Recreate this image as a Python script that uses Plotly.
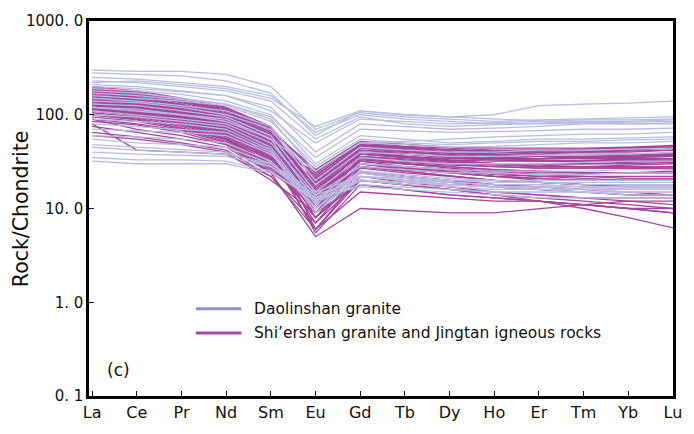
import plotly.graph_objects as go

# Chondrite-normalised REE patterns
elements = ["La", "Ce", "Pr", "Nd", "Sm", "Eu", "Gd", "Tb", "Dy", "Ho", "Er", "Tm", "Yb", "Lu"]

daolinshan = [
    [300, 290, 290, 270, 200, 70, 105, 95, 90, 85, 88, 90, 92, 95],
    [280, 270, 260, 230, 170, 60, 110, 100, 95, 100, 125, 130, 133, 140],
    [250, 240, 220, 200, 160, 65, 100, 90, 85, 80, 80, 82, 83, 85],
    [230, 220, 200, 180, 140, 55, 95, 80, 75, 78, 82, 85, 85, 88],
    [220, 230, 210, 190, 150, 75, 110, 100, 95, 90, 85, 82, 80, 80],
    [210, 200, 180, 160, 110, 50, 90, 85, 80, 82, 85, 88, 88, 90],
    [200, 190, 175, 160, 120, 40, 80, 75, 70, 72, 75, 80, 80, 82],
    [190, 180, 165, 140, 100, 30, 60, 55, 50, 52, 55, 55, 56, 58],
    [180, 170, 150, 130, 90, 25, 50, 48, 45, 46, 48, 50, 50, 52],
    [170, 160, 145, 130, 95, 35, 70, 68, 65, 66, 68, 70, 70, 72],
    [160, 150, 140, 125, 85, 28, 55, 50, 48, 50, 52, 52, 54, 55],
    [150, 140, 125, 110, 75, 20, 45, 42, 40, 40, 42, 42, 43, 44],
    [140, 135, 120, 100, 70, 18, 40, 38, 36, 36, 37, 38, 38, 40],
    [130, 125, 110, 95, 60, 15, 35, 32, 30, 30, 30, 31, 32, 32],
    [120, 110, 100, 85, 55, 25, 50, 52, 55, 58, 60, 62, 62, 65],
    [120, 115, 100, 90, 55, 12, 30, 28, 26, 25, 25, 25, 26, 26],
    [110, 100, 90, 80, 50, 14, 28, 26, 24, 24, 23, 23, 24, 24],
    [100, 95, 85, 75, 45, 11, 25, 23, 21, 20, 20, 20, 20, 20],
    [90, 85, 80, 70, 42, 10, 24, 21, 19, 18, 18, 17, 17, 17],
    [80, 75, 70, 65, 40, 9, 22, 20, 18, 17, 16, 16, 15, 15],
    [70, 68, 65, 60, 38, 12, 25, 22, 20, 19, 19, 18, 18, 18],
    [60, 58, 55, 50, 32, 10, 20, 19, 18, 17, 17, 16, 16, 16],
    [55, 50, 48, 45, 30, 13, 22, 21, 20, 20, 19, 19, 19, 19],
    [48, 45, 42, 40, 28, 12, 20, 18, 17, 16, 16, 15, 15, 15],
    [45, 42, 40, 38, 30, 15, 22, 20, 19, 18, 18, 17, 17, 17],
    [40, 38, 37, 36, 28, 14, 20, 19, 18, 17, 17, 17, 16, 16],
    [35, 33, 33, 32, 25, 12, 18, 17, 16, 15, 15, 15, 14, 14],
    [32, 30, 30, 30, 24, 13, 17, 16, 15, 14, 13, 13, 13, 13],
]

shiershan = [
    [200, 180, 150, 120, 75, 20, 45, 42, 40, 38, 38, 40, 42, 45],
    [195, 170, 145, 118, 72, 24, 50, 46, 44, 42, 42, 42, 43, 45],
    [190, 175, 140, 115, 70, 15, 40, 38, 35, 34, 34, 35, 36, 38],
    [188, 168, 142, 112, 68, 26, 52, 48, 45, 44, 44, 44, 45, 47],
    [185, 165, 140, 110, 65, 12, 38, 35, 33, 32, 32, 32, 33, 34],
    [182, 162, 138, 108, 64, 21, 46, 44, 42, 41, 42, 43, 44, 46],
    [180, 160, 135, 105, 62, 18, 45, 42, 40, 40, 40, 40, 42, 44],
    [175, 155, 130, 100, 60, 10, 35, 32, 30, 30, 30, 30, 31, 32],
    [172, 152, 128, 102, 61, 17, 44, 40, 37, 35, 34, 34, 35, 36],
    [170, 150, 125, 98, 58, 14, 40, 36, 32, 30, 28, 28, 28, 28],
    [170, 150, 128, 100, 60, 11, 35, 30, 27, 25, 23, 22, 22, 22],
    [165, 145, 120, 95, 55, 22, 50, 45, 42, 40, 40, 40, 40, 42],
    [162, 144, 122, 96, 56, 19, 46, 42, 39, 37, 36, 36, 37, 38],
    [160, 140, 118, 92, 52, 16, 42, 38, 35, 33, 32, 32, 33, 34],
    [160, 142, 120, 94, 55, 6, 20, 18, 16, 14, 13, 12, 11, 10],
    [155, 138, 115, 90, 50, 9, 30, 28, 26, 25, 24, 24, 24, 25],
    [155, 136, 114, 89, 51, 23, 47, 44, 42, 41, 40, 40, 41, 42],
    [150, 135, 112, 88, 48, 13, 36, 34, 32, 30, 30, 30, 30, 31],
    [150, 130, 110, 85, 46, 8, 28, 25, 22, 20, 19, 18, 18, 18],
    [148, 132, 110, 86, 47, 15, 38, 36, 34, 33, 32, 32, 32, 33],
    [145, 128, 108, 82, 45, 20, 45, 42, 40, 38, 36, 35, 35, 36],
    [145, 128, 105, 80, 44, 21, 48, 44, 40, 38, 36, 34, 33, 32],
    [140, 125, 105, 80, 44, 12, 34, 30, 28, 26, 25, 24, 24, 24],
    [140, 122, 102, 78, 42, 25, 48, 45, 42, 40, 38, 38, 38, 38],
    [138, 120, 100, 77, 41, 14, 36, 33, 31, 29, 28, 28, 29, 30],
    [135, 120, 100, 76, 40, 11, 30, 27, 24, 22, 20, 20, 20, 20],
    [130, 118, 98, 74, 40, 17, 40, 36, 33, 30, 28, 28, 27, 27],
    [130, 115, 95, 72, 38, 7, 25, 22, 20, 18, 17, 16, 16, 16],
    [130, 115, 95, 72, 40, 5.5, 18, 16, 14, 13, 12, 11, 10, 9],
    [128, 113, 94, 71, 39, 20, 44, 41, 39, 37, 36, 36, 36, 37],
    [125, 112, 92, 70, 38, 15, 35, 32, 30, 28, 27, 27, 27, 28],
    [125, 110, 90, 68, 36, 10, 30, 26, 24, 22, 21, 20, 20, 20],
    [120, 108, 88, 66, 35, 19, 42, 40, 38, 36, 34, 34, 34, 34],
    [120, 105, 86, 64, 34, 6, 22, 19, 17, 15, 14, 13, 13, 13],
    [118, 104, 86, 65, 35, 12, 33, 31, 29, 28, 27, 27, 27, 27],
    [115, 102, 84, 62, 33, 13, 32, 28, 26, 24, 22, 22, 21, 21],
    [115, 100, 82, 60, 32, 18, 40, 38, 36, 34, 33, 32, 32, 32],
    [110, 100, 82, 60, 32, 9, 27, 24, 22, 20, 19, 18, 18, 18],
    [110, 98, 80, 58, 30, 16, 38, 35, 32, 30, 29, 28, 28, 28],
    [105, 95, 78, 56, 30, 11, 28, 26, 24, 22, 21, 20, 20, 20],
    [100, 92, 75, 55, 29, 8, 22, 20, 18, 17, 16, 15, 14, 14],
    [100, 90, 72, 54, 28, 14, 32, 30, 28, 26, 25, 24, 24, 24],
    [100, 88, 72, 55, 30, 8, 20, 18, 16, 14, 12, 10, 8, 6.2],
    [95, 85, 70, 52, 27, 12, 28, 25, 22, 20, 19, 18, 17, 17],
    [90, 80, 68, 50, 26, 10, 24, 21, 19, 17, 16, 15, 14, 14],
    [90, 70, 60, 48, 24, 12, 25, 22, 20, 18, 17, 16, 15, 14],
    [85, 78, 65, 48, 25, 15, 30, 27, 25, 23, 22, 21, 20, 20],
    [80, 42, 40, 38, 22, 7, 20, 18, 16, 15, 14, 13, 12, 12],
    [75, 65, 55, 45, 24, 5, 10, 9.5, 9, 9, 10, 11, 12, 11],
    [65, 58, 50, 42, 22, 6, 15, 14, 13, 12, 12, 11, 10, 10],
    [60, 55, 48, 40, 20, 9, 18, 16, 14, 13, 12, 11, 10, 9],
]

legend_names = ["Daolinshan granite", "Shi\u2019ershan granite and Jingtan igneous rocks"]
y_tickvals = [0.1, 1, 10, 100, 1000]
y_ticktext = ["0. 1", "1. 0", "10. 0", "100. 0", "1000. 0"]
y_title = "Rock/Chondrite"

light_color = "#b9bde1"
dark_color = "#a4469d"
x_idx = list(range(len(elements)))

fig = go.Figure()
for row in shiershan:
    fig.add_trace(go.Scatter(x=x_idx, y=row, mode="lines",
                             line=dict(color=dark_color, width=1.3),
                             showlegend=False, hoverinfo="skip"))
for row in daolinshan:
    fig.add_trace(go.Scatter(x=x_idx, y=row, mode="lines",
                             line=dict(color=light_color, width=1.3),
                             showlegend=False, hoverinfo="skip"))

font_family = "DejaVu Sans, Liberation Sans, sans-serif"

# hand-drawn legend
legend_colors = ["#9090cc", "#a24a9e"]
legend_y = [0.233, 0.168]
for name, col, yy in zip(legend_names, legend_colors, legend_y):
    fig.add_shape(type="line", xref="paper", yref="paper",
                  x0=0.183, x1=0.261, y0=yy, y1=yy,
                  line=dict(color=col, width=3))
    fig.add_annotation(xref="paper", yref="paper", x=0.279, y=yy,
                       text=name, showarrow=False, xanchor="left", yanchor="middle",
                       font=dict(size=15.5, color="#111", family=font_family))

fig.add_annotation(xref="paper", yref="paper", x=0.028, y=0.07,
                   text="(c)", showarrow=False, xanchor="left", yanchor="middle",
                   font=dict(size=17, color="#111", family=font_family))

# vertical axis title
fig.add_annotation(xref="paper", yref="paper", x=-0.117, y=0.5,
                   text=y_title, textangle=-90, showarrow=False,
                   xanchor="center", yanchor="middle",
                   font=dict(size=20.5, color="#111", family=font_family))

fig.update_layout(
    width=694, height=434,
    margin=dict(l=89, r=14, t=16, b=32),
    paper_bgcolor="white", plot_bgcolor="white",
    font=dict(family=font_family, color="#111"),
    showlegend=False,
)
fig.update_xaxes(
    range=[-0.07, 13.0], tickvals=x_idx, ticktext=elements,
    ticks="inside", ticklen=5, tickwidth=1.2, tickcolor="#111",
    showgrid=False, zeroline=False,
    showline=True, linecolor="black", linewidth=2.5, mirror=True,
    tickfont=dict(size=16, family=font_family),
)
fig.update_yaxes(
    type="log", range=[-1, 3], tickvals=y_tickvals, ticktext=y_ticktext,
    ticks="inside", ticklen=5, tickwidth=1.2, tickcolor="#111",
    showgrid=False, zeroline=False,
    showline=True, linecolor="black", linewidth=2.5, mirror=True,
    tickfont=dict(size=15, family=font_family),
)

fig.write_html("out.html")
